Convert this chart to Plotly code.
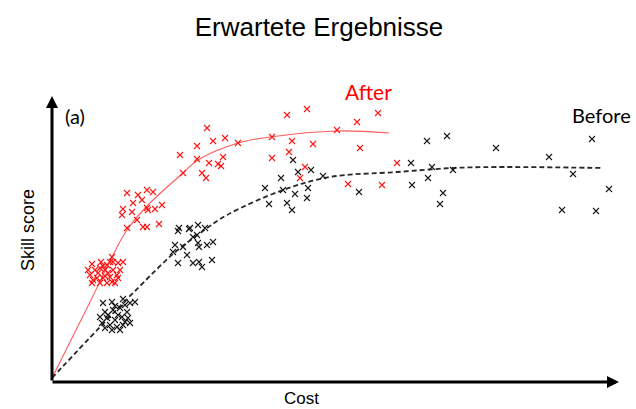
import plotly.graph_objects as go

# ---- data (Cost, Skill score in arbitrary units) ----
after_cost = [42, 51, 53, 62, 63, 68, 73, 45, 48, 55, 58, 63, 67, 40, 43, 50, 57, 62, 65, 68, 42, 47, 53, 60, 57,
              38, 70, 60, 50, 55,
              157, 147, 163, 175, 130, 147, 159, 168, 171, 173, 133, 152, 156, 77, 88, 97, 103, 83, 92, 73, 72, 82,
              97, 98, 105, 112, 87, 93, 77, 109, 97,
              237, 257, 287, 222, 242, 263, 239, 222, 255, 250, 188, 307, 328, 310, 347, 298, 332]
after_skill = [116, 118, 114, 123, 118, 117, 118, 110, 107, 110, 107, 110, 105, 105, 100, 97, 97, 98, 97, 102, 97, 102,
               102, 103, 115,
               110, 110, 118, 112, 104,
               252, 234, 239, 242, 225, 221, 217, 216, 214, 223, 207, 207, 202, 187, 185, 190, 188, 177, 180, 171, 165,
               168, 172, 170, 171, 175, 160, 153, 152, 156, 153,
               265, 271, 250, 243, 239, 236, 228, 222, 213, 202, 237, 258, 267, 232, 217, 196, 195]

before_cost = [53, 62, 73, 80, 85, 55, 63, 70, 77, 57, 65, 72, 78, 52, 60, 67, 73, 80, 62, 70, 58, 68, 50, 75,
               55, 65, 75,
               128, 139, 148, 155, 125, 133, 143, 148, 157, 163, 123, 137, 149, 128, 143, 149, 152, 162, 147, 129, 140,
               243, 248, 261, 273, 231, 215, 233, 245, 258, 257, 219, 237, 242,
               377, 397, 446, 499, 542, 361, 382, 403, 378, 362, 309, 393, 390, 523, 559, 512, 546]
before_skill = [77, 78, 81, 77, 78, 68, 70, 72, 68, 62, 60, 63, 62, 57, 55, 53, 55, 57, 50, 50, 65, 65, 63, 75,
                52, 74, 58,
                149, 151, 155, 152, 135, 133, 143, 137, 135, 138, 128, 125, 133, 117, 117, 118, 113, 120, 145, 152, 152,
                220, 208, 210, 204, 202, 192, 190, 186, 192, 182, 176, 177, 170,
                239, 244, 232, 223, 241, 217, 213, 210, 202, 195, 188, 187, 176, 206, 191, 170, 169]

after_fit_cost = [2, 30, 40, 63, 77, 98, 133, 148, 188, 220, 287, 339]
after_fit_skill = [2, 58, 78, 125, 150, 175, 207, 220, 237, 243, 249, 247]

before_fit_cost = [2, 50, 90, 123, 153, 177, 233, 280, 347, 403, 447, 553]
before_fit_skill = [2, 53, 94, 126, 149, 165, 190, 203, 208, 212, 213, 212]

RED = "rgb(255,20,20)"
BLACK = "rgb(25,25,25)"

fig = go.Figure()

fig.add_trace(go.Scatter(x=after_fit_cost, y=after_fit_skill, mode="lines",
                         line=dict(color="rgba(255,60,60,0.85)", width=1.1, shape="spline", smoothing=1.0),
                         hoverinfo="skip", showlegend=False))
fig.add_trace(go.Scatter(x=before_fit_cost, y=before_fit_skill, mode="lines",
                         line=dict(color="rgb(40,40,40)", width=1.8, dash="5px,3px", shape="spline", smoothing=1.0),
                         hoverinfo="skip", showlegend=False))

fig.add_trace(go.Scatter(x=after_cost, y=after_skill, mode="markers",
                         marker=dict(symbol="x-thin", size=6, line=dict(color=RED, width=1.1)),
                         showlegend=False))
fig.add_trace(go.Scatter(x=before_cost, y=before_skill, mode="markers",
                         marker=dict(symbol="x-thin", size=6, line=dict(color=BLACK, width=1.1)),
                         showlegend=False))

# axes with arrows
fig.add_annotation(x=2, y=284, ax=2, ay=-2, xref="x", yref="y", axref="x", ayref="y",
                   showarrow=True, arrowhead=2, arrowsize=0.8, arrowwidth=3, arrowcolor="black", text="")
fig.add_annotation(x=569, y=-2, ax=1, ay=-2, xref="x", yref="y", axref="x", ayref="y",
                   showarrow=True, arrowhead=2, arrowsize=0.8, arrowwidth=3, arrowcolor="black", text="")

fig.add_annotation(x=-0.0383, y=0.522, xref="paper", yref="paper", xanchor="center", yanchor="middle",
                   text="Skill score", textangle=-90,
                   showarrow=False, font=dict(family="Liberation Sans, Arial", size=18, color="black"))
fig.add_annotation(x=0.438, y=-0.0546, xref="paper", yref="paper", xanchor="center", yanchor="middle",
                   text="Cost", showarrow=False,
                   font=dict(family="Liberation Sans, Arial", size=17, color="black"))
fig.add_annotation(x=25, y=264, xref="x", yref="y", text="(a)", showarrow=False,
                   font=dict(family="Lato, Open Sans", size=20, color="black"))
fig.add_annotation(x=318, y=289, xref="x", yref="y", text="After", showarrow=False,
                   font=dict(family="Lato, Open Sans", size=21, color="rgb(255,0,0)"))
fig.add_annotation(x=551, y=265, xref="x", yref="y", text="Before", showarrow=False,
                   font=dict(family="Lato, Open Sans", size=20, color="black"))

fig.update_layout(
    width=636, height=409,
    margin=dict(l=50, r=11, t=90, b=26),
    paper_bgcolor="white", plot_bgcolor="white",
    title=dict(text="Erwartete Ergebnisse", x=0.5016, xanchor="center", xref="container",
               y=1 - 27 / 409, yanchor="middle", yref="container",
               font=dict(family="Liberation Sans, Arial", size=26, color="black")),
    xaxis=dict(range=[0, 575], visible=False, fixedrange=True),
    yaxis=dict(range=[-3, 290], visible=False, fixedrange=True),
)

fig.write_html("out.html")
